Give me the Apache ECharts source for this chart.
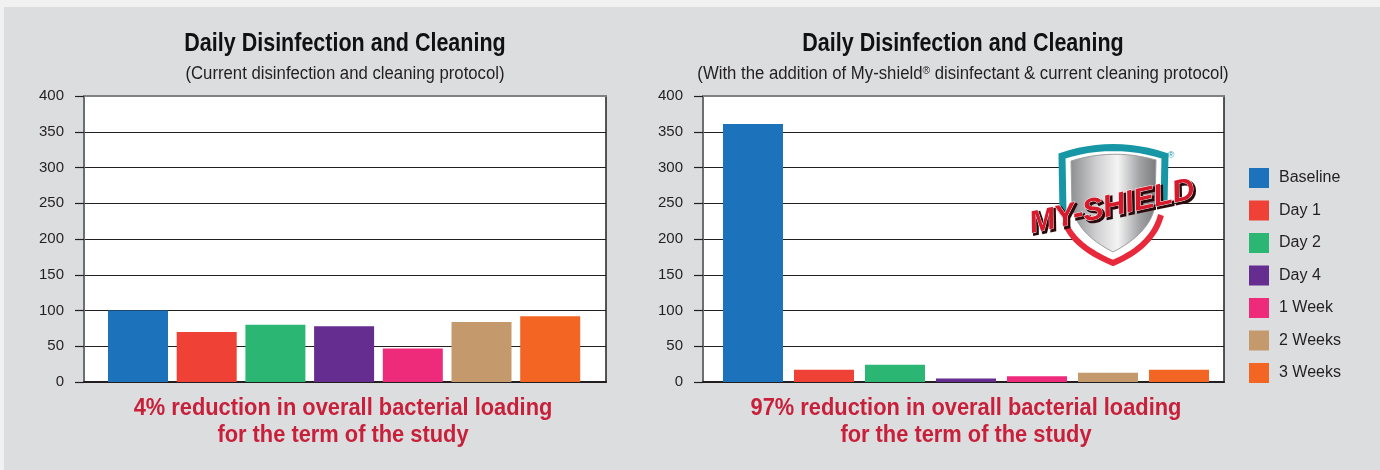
<!DOCTYPE html>
<html>
<head>
<meta charset="utf-8">
<script src="https://cdn.jsdelivr.net/npm/echarts@6/dist/echarts.min.js"></script>
<style>
  html, body { margin: 0; padding: 0; background: #dcdddf; }
  #chart { width: 1380px; height: 470px; }
</style>
</head>
<body>
<div id="chart"></div>
<script>
// sampling points, in legend order
const categories = ['Baseline', 'Day 1', 'Day 2', 'Day 4', '1 Week', '2 Weeks', '3 Weeks']
// bacterial load, current protocol
const currentProtocol = [100, 70, 80, 78, 47, 84, 92]
// bacterial load, with My-shield disinfectant
const myShieldProtocol = [361, 17, 24, 5, 8, 13, 17]
const yTicks = { min: 0, max: 400, interval: 50 }

const palette = ['#1c72bb', '#ef4136', '#2bb673', '#662d91', '#ee2a7b', '#c49a6c', '#f26522']
const FONT = '"Liberation Sans", Arial, sans-serif'
const INK = '#231f20'

const chart = echarts.init(document.getElementById('chart'))

function yAxisFor(gi) {
  return {
    type: 'value', gridIndex: gi,
    min: yTicks.min, max: yTicks.max, interval: yTicks.interval,
    axisLine: { show: true, onZero: false, lineStyle: { color: '#6d6e71', width: 2 } },
    axisTick: { show: true, length: 9, lineStyle: { color: INK, width: 1.2 } },
    axisLabel: { color: INK, fontSize: 15, fontFamily: FONT, margin: 20 },
    splitLine: { lineStyle: { color: INK, width: 1.2 } }
  }
}

function xAxisFor(gi, min, max) {
  return {
    type: 'value', gridIndex: gi, min, max,
    axisLine: { show: true, onZero: false, lineStyle: { color: INK, width: 2 } },
    axisTick: { show: false }, axisLabel: { show: false }, splitLine: { show: false }
  }
}

function topEdge(gi) {
  return {
    type: 'value', gridIndex: gi, position: 'top', min: 0, max: 1,
    axisLine: { show: true, onZero: false, lineStyle: { color: '#808285', width: 2 } },
    axisTick: { show: false }, axisLabel: { show: false }, splitLine: { show: false }
  }
}

const series = []
;[currentProtocol, myShieldProtocol].forEach((vals, gi) => {
  categories.forEach((name, i) => {
    series.push({
      type: 'bar', name,
      xAxisIndex: gi, yAxisIndex: gi,
      data: [[i, vals[i]]],
      barWidth: 60, barGap: '-100%',
      itemStyle: { color: palette[i] },
      emphasis: { disabled: true }
    })
  })
})

// condensed look: squeeze horizontally
function txt(x, y, text, size, color, weight, sx) {
  return {
    type: 'text', x, y, z: 50, scaleX: sx || 1,
    style: {
      text, fill: color, align: 'center', verticalAlign: 'middle',
      font: `${weight || 'normal'} ${size}px ${FONT}`
    }
  }
}

// logo outline helper
function quad(p0, p1, p2, n = 12) {
  const pts = []
  for (let k = 0; k <= n; k++) {
    const t = k / n, u = 1 - t
    pts.push([u * u * p0[0] + 2 * u * t * p1[0] + t * t * p2[0], u * u * p0[1] + 2 * u * t * p1[1] + t * t * p2[1]])
  }
  return pts
}

const outerPts = [
  ...quad([1061, 157], [1113, 139], [1166, 157]),
  ...quad([1164, 210], [1159, 243], [1113, 265]),
  ...quad([1113, 265], [1067, 243], [1062, 210])
]
const tealPts = [[1063, 212], ...quad([1062, 156], [1113, 139], [1165, 156]), [1164, 205]]
const redPts = [...quad([1065, 222], [1073, 246], [1113, 263]), ...quad([1113, 263], [1153, 246], [1161, 215])]
const silverPts = [
  ...quad([1071, 161], [1113, 148], [1156, 160]),
  ...quad([1155, 206], [1150, 233], [1113, 252]),
  ...quad([1113, 252], [1076, 233], [1072, 206])
]

const graphic = [
  { type: 'rect', shape: { x: 0, y: 0, width: 1380, height: 7 }, style: { fill: '#f1f1f2' }, z: -5 },
  { type: 'rect', shape: { x: 0, y: 0, width: 4, height: 470 }, style: { fill: '#f1f1f2' }, z: -5 },

  txt(345, 44, 'Daily Disinfection and Cleaning', 25, '#111', 'bold', 0.86),
  txt(345, 74, '(Current disinfection and cleaning protocol)', 18, INK, 'normal', 0.93),
  txt(963, 44, 'Daily Disinfection and Cleaning', 25, '#111', 'bold', 0.86),
  {
    type: 'text', x: 963, y: 74, z: 50, scaleX: 0.93,
    style: {
      text: '(With the addition of My-shield{sup|®} disinfectant & current cleaning protocol)',
      fill: INK, align: 'center', verticalAlign: 'middle',
      font: `18px ${FONT}`,
      rich: { sup: { fontSize: 11, fontFamily: FONT, fill: INK, verticalAlign: 'top', lineHeight: 16 } }
    }
  },
  txt(343, 408, '4% reduction in overall bacterial loading', 24, '#c8203a', 'bold', 0.91),
  txt(343, 435, 'for the term of the study', 24, '#c8203a', 'bold', 0.91),
  txt(966, 408, '97% reduction in overall bacterial loading', 24, '#c8203a', 'bold', 0.91),
  txt(966, 435, 'for the term of the study', 24, '#c8203a', 'bold', 0.91),

  // My-Shield logo
  { type: 'polygon', z: 60, shape: { points: outerPts }, style: { fill: '#fff' } },
  { type: 'polyline', z: 61, shape: { points: tealPts }, style: { stroke: '#1797a6', lineWidth: 7 } },
  { type: 'polyline', z: 61, shape: { points: redPts }, style: { stroke: '#e8293b', lineWidth: 6 } },
  {
    type: 'polygon', z: 62, shape: { points: silverPts },
    style: {
      fill: {
        type: 'linear', x: 0, y: 0, x2: 1, y2: 0,
        colorStops: [
          { offset: 0, color: '#8d8e90' }, { offset: 0.3, color: '#cfcfd1' },
          { offset: 0.55, color: '#f4f4f4' }, { offset: 0.8, color: '#a3a4a6' },
          { offset: 1, color: '#7a7b7d' }
        ]
      },
      stroke: '#9d9ea0', lineWidth: 1
    }
  },
  {
    type: 'text', x: 1114, y: 209, rotation: 0.21, z: 63,
    style: {
      text: 'MY-SHIELD', fill: '#2b0a0c', stroke: '#2b0a0c', lineWidth: 2,
      align: 'center', verticalAlign: 'middle',
      font: `italic bold 31px ${FONT}`
    }
  },
  {
    type: 'text', x: 1112, y: 207, rotation: 0.21, z: 64,
    style: {
      text: 'MY-SHIELD', fill: '#d7192b', stroke: '#fff', lineWidth: 0.8,
      align: 'center', verticalAlign: 'middle',
      font: `italic bold 31px ${FONT}`
    }
  },
  {
    type: 'text', x: 1171, y: 156, z: 63,
    style: { text: '®', fill: '#1797a6', font: `9px ${FONT}`, align: 'center', verticalAlign: 'middle' }
  }
]

chart.setOption({
  backgroundColor: '#dcdddf',
  animation: false,
  grid: [
    { left: 84, top: 96, width: 522, height: 286, show: true, backgroundColor: '#fff', borderColor: INK, borderWidth: 1.5 },
    { left: 703, top: 96, width: 521, height: 286, show: true, backgroundColor: '#fff', borderColor: INK, borderWidth: 1.5 }
  ],
  xAxis: [
    xAxisFor(0, -0.786, 6.812),
    xAxisFor(1, -0.704, 6.634),
    topEdge(0),
    topEdge(1)
  ],
  yAxis: [yAxisFor(0), yAxisFor(1)],
  legend: {
    data: categories,
    orient: 'vertical',
    left: 1249, top: 168, padding: 0,
    itemWidth: 20, itemHeight: 20, itemGap: 12.5,
    icon: 'rect',
    selectedMode: false,
    textStyle: { color: INK, fontSize: 16, fontFamily: FONT, padding: [0, 0, 0, 5] }
  },
  graphic,
  series
})
</script>
</body>
</html>
